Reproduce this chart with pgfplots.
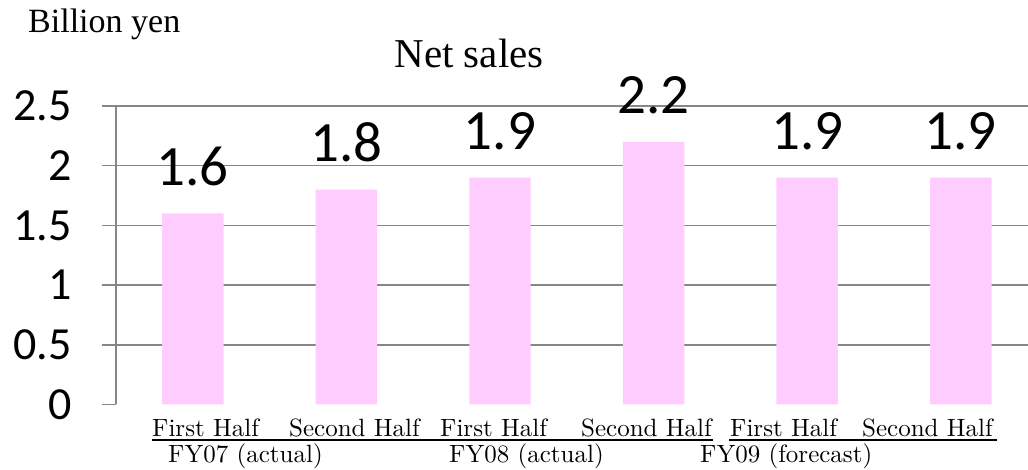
\documentclass[border=0pt]{standalone}
\usepackage{fontspec}
\usepackage{pgfplots}
\pgfplotsset{compat=1.18}
\newfontfamily\carlito{Carlito}
\newfontfamily\libserif{Liberation Serif}
\newfontfamily\lmten{lmroman10-regular}[Extension=.otf]
\definecolor{barpink}{RGB}{255,204,255}
\definecolor{gridgray}{RGB}{134,134,134}

\begin{document}
\begin{tikzpicture}[x=1pt,y=1pt]
\useasboundingbox (0,0) rectangle (1028,470);
\begin{axis}[
  at={(116pt,65.5pt)}, anchor=south west,
  scale only axis,
  width=912pt, height=298.5pt,
  xmin=-0.5, xmax=5.4375,
  ymin=0, ymax=2.5,
  axis x line=none,
  axis y line*=left,
  y axis line style={draw=gridgray, line width=1.6pt},
  ytick={0.5,1,1.5,2,2.5},
  extra y ticks={0},
  extra y tick style={ymajorgrids=false},
  ymajorgrids,
  grid style={draw=gridgray, line width=1.6pt},
  ytick pos=left,
  tick align=outside,
  major tick length=14pt,
  ytick style={gridgray, line width=1.6pt},
  /pgf/number format/assume math mode=true,
  yticklabel style={font=\carlito\fontsize{46}{46}\selectfont, anchor=east,
    inner sep=0pt, xshift=-30pt},
  clip=false,
  ybar, bar width=0.4,
  nodes near coords,
  every node near coord/.append style={font=\carlito\fontsize{57}{57}\selectfont,
    anchor=base, yshift=28pt, inner sep=0pt, text=black},
]
\addplot[fill=barpink, draw=none, bar shift=0pt] coordinates {
  (0,1.6)(1,1.8)(2,1.9)(3,2.2)(4,1.9)(5,1.9)
};
\end{axis}

% titles
\node[anchor=base west, inner sep=0pt, font=\libserif\fontsize{34}{34}\selectfont] at (28,437) {Billion yen};
\node[anchor=base, inner sep=0pt, font=\libserif\fontsize{41}{41}\selectfont] at (469,402) {Net sales};

% category labels
\begin{scope}[every node/.style={anchor=base west, inner sep=0pt, font=\lmten\fontsize{25}{25}\selectfont}]
\node at (152,33) {First Half};
\node at (289,33) {Second Half};
\node at (440,33) {First Half};
\node at (581,33) {Second Half};
\node at (730,33) {First Half};
\node at (862,33) {Second Half};
\node at (168,7) {FY07 (actual)};
\node at (449,7) {FY08 (actual)};
\node at (700,7) {FY09 (forecast)};
\end{scope}
\draw[line width=2pt] (152,29.5) -- (713,29.5);
\draw[line width=2pt] (729,29.5) -- (997,29.5);
\end{tikzpicture}
\end{document}
